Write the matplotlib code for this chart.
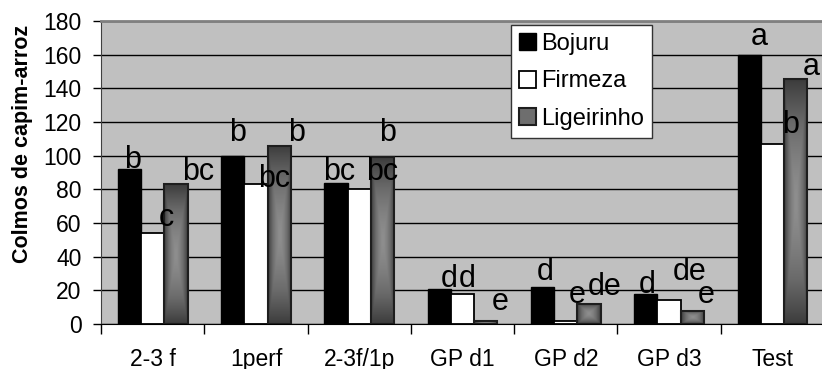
import numpy as np
import matplotlib
matplotlib.use('Agg')
import matplotlib.pyplot as plt
from matplotlib.patches import Patch
from matplotlib.colors import LinearSegmentedColormap

plt.rcParams['font.family'] = ['Liberation Sans', 'DejaVu Sans']

categories = ['2-3 f', '1perf', '2-3f/1p', 'GP d1', 'GP d2', 'GP d3', 'Test']
series_names = ['Bojuru', 'Firmeza', 'Ligeirinho']
bojuru = [92, 100, 84, 20.5, 22, 18, 160]
firmeza = [54, 83, 80, 18, 1.5, 14, 107]
ligeirinho = [83, 106, 99, 2, 12, 8, 145.5]

# significance letters, one row per category (Bojuru, Firmeza, Ligeirinho)
letters = [['b', 'c', 'bc'],
           ['b', 'bc', 'b'],
           ['bc', 'bc', 'b'],
           ['d', 'd', 'e'],
           ['d', 'e', 'de'],
           ['d', 'de', 'e'],
           ['a', 'b', 'a']]
# where each letter sits relative to its bar (x in category units, y in data units)
letter_dx = [[0.03, 0.13, 0.22],
             [0.05, 0.175, 0.163],
             [0.03, 0.217, 0.053],
             [0.10, 0.043, 0.138],
             [0.023, 0.108, 0.149],
             [0.011, 0.197, 0.133],
             [0.095, 0.18, 0.148]]
letter_dy = [[0.5, 4.2, 2.6],
             [8.9, -1.4, 2.9],
             [1.6, 5.6, 9.9],
             [1.3, 3.8, 6.3],
             [4.1, 10.8, 5.2],
             [0.2, 12.1, 4.5],
             [5.8, 6.5, 2.5]]

fig = plt.figure(figsize=(8.22, 3.69), dpi=100)
ax = fig.add_axes([0.1229, 0.122, 0.8796, 0.821])
ax.set_facecolor('#c0c0c0')
ax.set_axisbelow(True)
ax.yaxis.grid(True, color='black', linewidth=1)

x = np.arange(len(categories))
w = 0.225
b1 = ax.bar(x - w, bojuru, w, color='black', edgecolor='black', linewidth=1, zorder=2)
b2 = ax.bar(x, firmeza, w, color='white', edgecolor='black', linewidth=1.3, zorder=2)
b3 = ax.bar(x + w, ligeirinho, w, color='none', edgecolor='#1e1e1e', linewidth=1.5, zorder=2)

# "from centre" grey gradient inside the Ligeirinho bars
cmap = LinearSegmentedColormap.from_list('g', ['#8e8e8e', '#6a6a6a', '#3c3c3c'])
u = np.linspace(-1, 1, 40)
v = np.linspace(-1, 1, 200)
U, V = np.meshgrid(u, v)
grad = np.maximum(np.abs(U), np.abs(V)) ** 1.5
for rect in b3:
    x0, bw, bh = rect.get_x(), rect.get_width(), rect.get_height()
    ax.imshow(grad, extent=[x0, x0 + bw, 0, bh], cmap=cmap, aspect='auto',
              zorder=1.5, interpolation='bilinear')

for i in range(len(categories)):
    for j, bars in enumerate([b1, b2, b3]):
        r = bars[i]
        cx = r.get_x() + r.get_width() / 2
        ax.text(cx + letter_dx[i][j], r.get_height() + letter_dy[i][j], letters[i][j],
                ha='center', va='baseline', fontsize=22, zorder=3)

ax.set_xlim(-0.5, len(categories) - 0.5)
ax.set_ylim(0, 180)
ax.set_yticks(np.arange(0, 181, 20))
ax.set_xticks(x)
ax.set_xticklabels(categories)
ax.set_xticks(np.arange(-0.5, len(categories), 1), minor=True)
ax.tick_params(axis='x', which='major', length=0, pad=17, labelsize=16.5)
ax.tick_params(axis='x', which='minor', length=7, width=1, color='black', direction='out')
ax.tick_params(axis='y', length=6, width=1, color='black', pad=8, labelsize=16.5)

ax.spines['top'].set_color('#808080')
ax.spines['top'].set_linewidth(2)
ax.spines['right'].set_visible(False)
ax.spines['left'].set_color('#404040')
ax.spines['bottom'].set_color('black')

fig.text(0.027, 0.611, 'Colmos de capim-arroz', rotation=90, ha='center', va='center',
         fontsize=15.5, fontweight='bold')

handles = [Patch(facecolor='black', edgecolor='black'),
           Patch(facecolor='white', edgecolor='black', linewidth=1.3),
           Patch(facecolor='#6e6e6e', edgecolor='#1e1e1e', linewidth=1.5)]
leg = ax.legend(handles, series_names, loc='upper left', bbox_to_anchor=(0.5667, 0.986),
                fontsize=17, frameon=True, fancybox=False, framealpha=1,
                edgecolor='#333333', handlelength=0.72, handleheight=0.72,
                handletextpad=0.25, labelspacing=0.65, borderpad=0.33, borderaxespad=0)
leg.get_frame().set_linewidth(1)
leg.set_zorder(4)

fig.savefig('out.png', dpi=100)
